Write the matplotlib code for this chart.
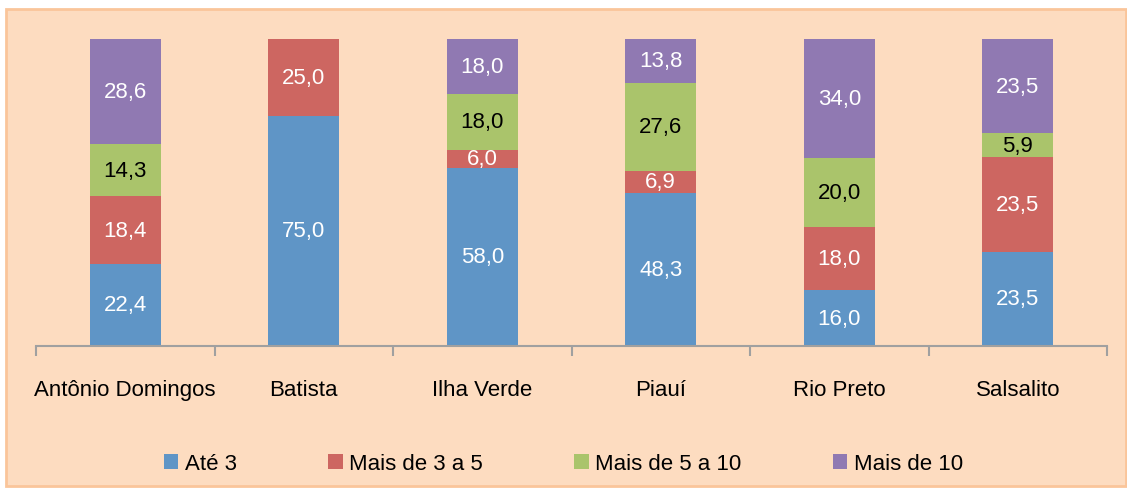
import matplotlib.pyplot as plt
import numpy as np
from matplotlib.patches import Rectangle

# dados
locais = ['Antônio Domingos', 'Batista', 'Ilha Verde', 'Piauí', 'Rio Preto', 'Salsalito']
ate_3 = [22.4, 75.0, 58.0, 48.3, 16.0, 23.5]
mais_3_5 = [18.4, 25.0, 6.0, 6.9, 18.0, 23.5]
mais_5_10 = [14.3, 0.0, 18.0, 27.6, 20.0, 5.9]
mais_10 = [28.6, 0.0, 18.0, 13.8, 34.0, 23.5]
series_nomes = ['Até 3', 'Mais de 3 a 5', 'Mais de 5 a 10', 'Mais de 10']

plt.rcParams['font.family'] = ['Liberation Sans', 'DejaVu Sans']

cores = ['#5F95C6', '#CD6661', '#AAC46B', '#9079B2']
cores_txt = ['white', 'white', 'black', 'white']
fundo = '#FDDCC0'

fig = plt.figure(figsize=(11.27, 4.89), dpi=100)
fig.patch.set_facecolor('white')
fig.patches.append(Rectangle((6 / 1127, 1 - 487 / 489), 1120 / 1127, 477 / 489,
                             transform=fig.transFigure, facecolor=fundo,
                             edgecolor='#FAC59A', linewidth=2, zorder=-10))

ax = fig.add_axes([36 / 1127, 1 - 347 / 489, 1071 / 1127, 307 / 489])
ax.set_facecolor('none')

dados = np.array([ate_3, mais_3_5, mais_5_10, mais_10])
totais = dados.sum(axis=0)
pct = dados / totais * 100
x = np.arange(len(locais))
base = np.zeros(len(locais))
for i, nome in enumerate(series_nomes):
    ax.bar(x, pct[i], 0.4, bottom=base, color=cores[i], label=nome)
    for j in range(len(locais)):
        if dados[i, j] > 0:
            ax.text(x[j], base[j] + pct[i, j] / 2, f'{dados[i, j]:.1f}'.replace('.', ','),
                    ha='center', va='center', color=cores_txt[i], fontsize=16)
    base += pct[i]

ax.set_xlim(-0.5, len(locais) - 0.5)
ax.set_ylim(0, 100)
ax.set_yticks([])
for s in ['top', 'right', 'left']:
    ax.spines[s].set_visible(False)
ax.spines['bottom'].set_color('#A0A0A0')
ax.spines['bottom'].set_linewidth(1.5)
ax.set_xticks(x)
ax.set_xticklabels(locais, fontsize=16)
ax.tick_params(axis='x', which='major', length=0, pad=24)
ax.set_xticks(np.arange(-0.5, len(locais)), minor=True)
ax.tick_params(axis='x', which='minor', length=7, width=1.5, color='#A0A0A0')

fig.legend(loc='center', bbox_to_anchor=(0.5, 1 - 465 / 489), ncol=4, frameon=False,
           fontsize=16, handlelength=0.65, handleheight=0.65, handletextpad=0.3,
           columnspacing=4.1)

fig.savefig('out.png', dpi=100)
